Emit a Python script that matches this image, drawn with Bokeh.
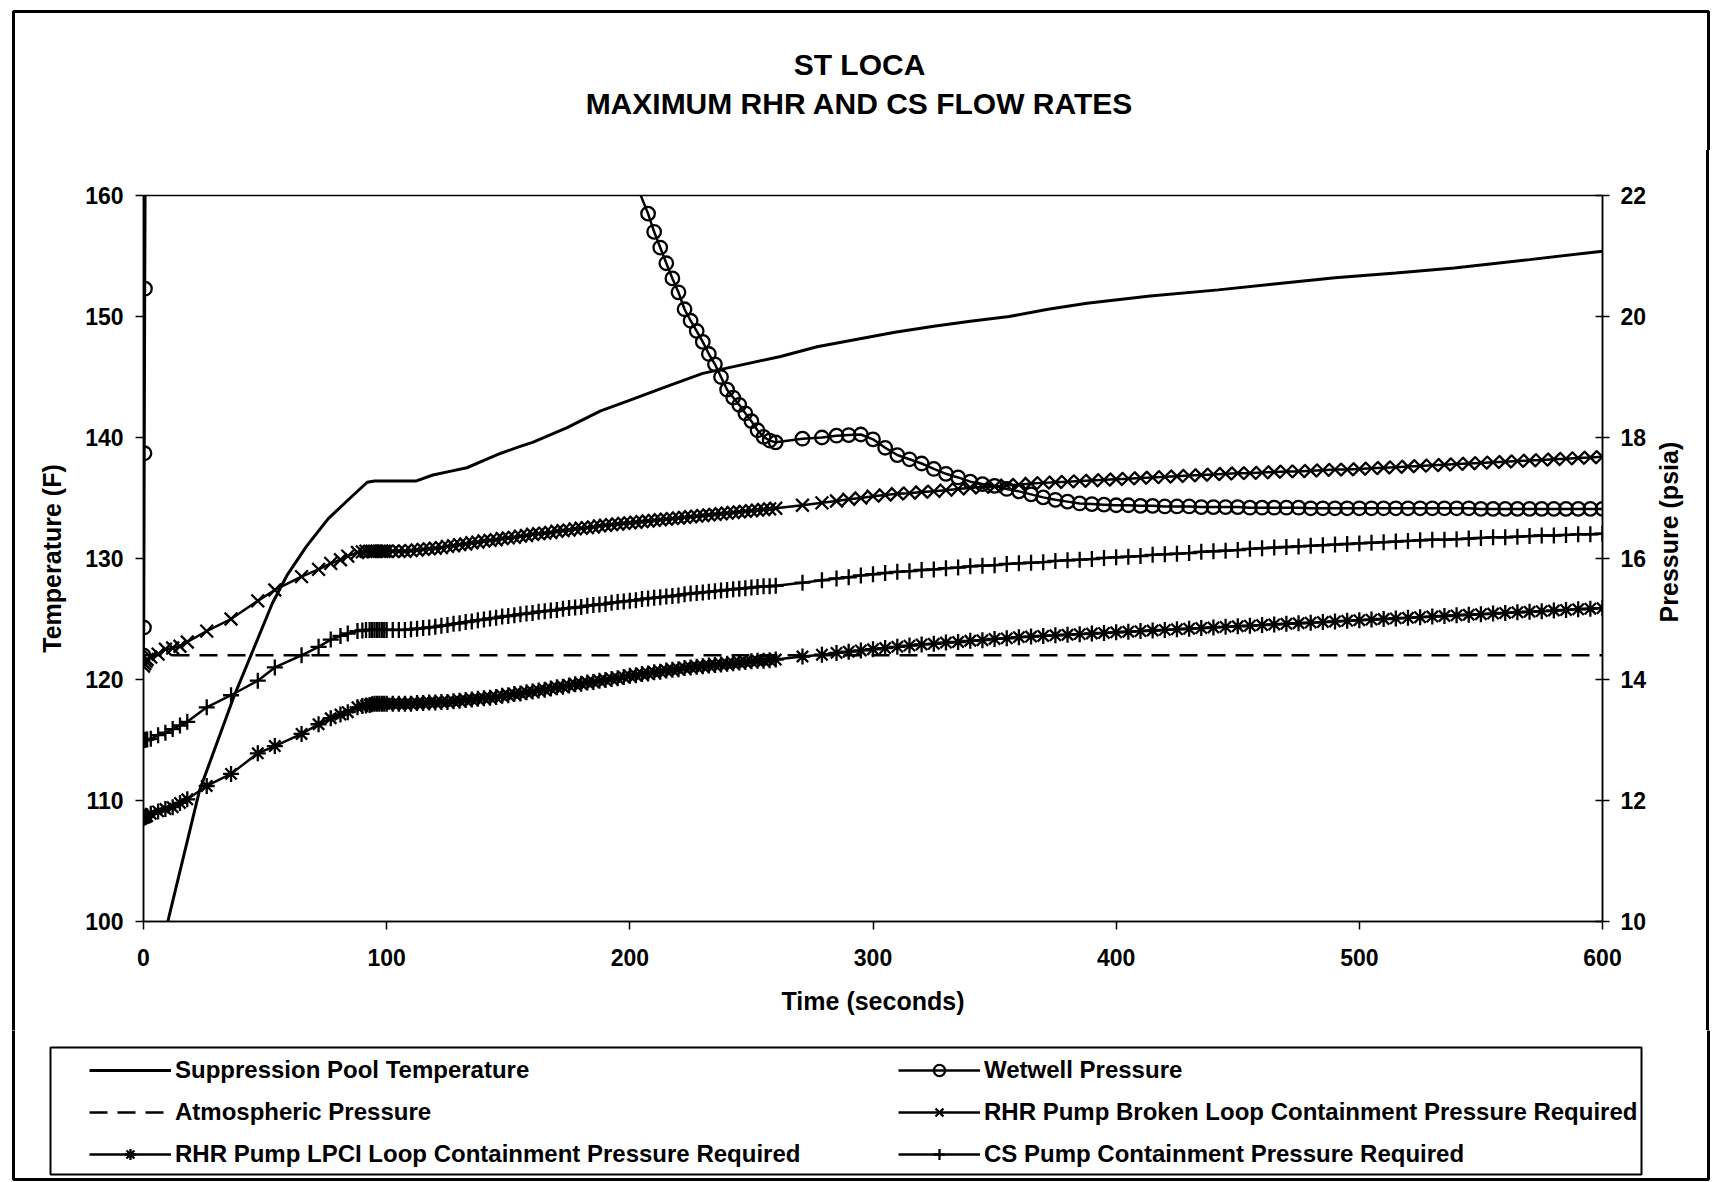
import math
from bokeh.plotting import figure
from bokeh.layouts import column, row
from bokeh.models import (Range1d, LinearAxis, FixedTicker, Legend, LegendItem,
                          Label, BoxAnnotation, Spacer)
from bokeh.embed import file_html
from bokeh.resources import INLINE

# ---------------- text ----------------
TITLE_1 = "ST LOCA"
TITLE_2 = "MAXIMUM RHR AND CS FLOW RATES"
X_LABEL = "Time (seconds)"
Y_LABEL_LEFT = "Temperature (F)"
Y_LABEL_RIGHT = "Pressure (psia)"
X_TICKS = [0, 100, 200, 300, 400, 500, 600]
TEMP_TICKS = [100, 110, 120, 130, 140, 150, 160]
PRES_TICKS = [10, 12, 14, 16, 18, 20, 22]

# ---------------- data ----------------
SPT_TIME = [0, 10, 23, 37, 45, 53, 59, 67, 76, 85,
            92, 95, 105, 112, 119, 126, 133, 140, 147, 154,
            160, 167, 174, 181, 188, 199, 215, 230, 246, 262,
            277, 293, 309, 325, 340, 356, 372, 388, 414, 442,
            466, 490, 515, 539, 570, 600]
SPT_TEMP = [92.3, 100.0, 110.8, 118.5, 122.4, 126.3, 128.6, 131.0, 133.3, 135.0,
            136.3, 136.4, 136.4, 136.4, 136.9, 137.2, 137.5, 138.1, 138.7, 139.2,
            139.6, 140.2, 140.8, 141.5, 142.2, 143.0, 144.2, 145.3, 146.0, 146.7,
            147.5, 148.1, 148.7, 149.2, 149.6, 150.0, 150.6, 151.1, 151.7, 152.2,
            152.7, 153.2, 153.6, 154.0, 154.7, 155.4]

ATM_TIME = [0, 600]
ATM_PRES = [14.4, 14.4]

EARLY_T = [0, 0.5, 1, 1.5, 3, 6, 9, 12, 15, 18,
           26, 36, 47, 54, 65, 72, 77, 81, 84, 88,
           90, 91.5, 93, 94, 95, 96, 97, 98, 99]
MID_T = [100, 102.5, 105, 107.5, 110, 112.5, 115, 117.5, 120, 122.5,
         125, 127.5, 130, 132.5, 135, 137.5, 140, 142.5, 145, 147.5,
         150, 152.5, 155, 157.5, 160, 162.5, 165, 167.5, 170, 172.5,
         175, 177.5, 180, 182.5, 185, 187.5, 190, 192.5, 195, 197.5,
         200, 202.5, 205, 207.5, 210, 212.5, 215, 217.5, 220, 222.5,
         225, 227.5, 230, 232.5, 235, 237.5, 240, 242.5, 245, 247.5,
         250, 252.5, 255, 257.5]
LATE_T = [260, 271, 279, 285,
          290, 295, 300, 305, 310, 315, 320, 325, 330, 335,
          340, 345, 350, 355, 360, 365, 370, 375, 380, 385,
          390, 395, 400, 405, 410, 415, 420, 425, 430, 435,
          440, 445, 450, 455, 460, 465, 470, 475, 480, 485,
          490, 495, 500, 505, 510, 515, 520, 525, 530, 535,
          540, 545, 550, 555, 560, 565, 570, 575, 580, 585,
          590, 595, 600]
PUMP_TIME = EARLY_T + MID_T + LATE_T

LPCI_PRES = [
    11.72, 11.72, 11.73, 11.74, 11.78, 11.82, 11.86, 11.89, 11.96, 12.02,
    12.24, 12.44, 12.78, 12.90, 13.10, 13.26, 13.36, 13.42, 13.46, 13.54,
    13.56, 13.57, 13.58, 13.59, 13.60, 13.60, 13.60, 13.60, 13.60,
    13.60, 13.60, 13.60, 13.60, 13.60, 13.61, 13.61, 13.62, 13.62, 13.63,
    13.63, 13.64, 13.65, 13.66, 13.67, 13.68, 13.69, 13.70, 13.71, 13.73,
    13.74, 13.76, 13.77, 13.79, 13.80, 13.82, 13.83, 13.85, 13.87, 13.88,
    13.90, 13.92, 13.93, 13.95, 13.96, 13.98, 13.99, 14.01, 14.02, 14.04,
    14.06, 14.07, 14.09, 14.10, 14.12, 14.13, 14.15, 14.16, 14.17, 14.19,
    14.20, 14.21, 14.22, 14.23, 14.24, 14.25, 14.26, 14.27, 14.28, 14.29,
    14.30, 14.31, 14.31, 14.32,
    14.33, 14.38, 14.41, 14.44,
    14.46, 14.48, 14.50, 14.52, 14.54, 14.56, 14.58, 14.59, 14.61, 14.62,
    14.64, 14.65, 14.67, 14.68, 14.70, 14.71, 14.72, 14.73, 14.74, 14.75,
    14.76, 14.77, 14.78, 14.79, 14.80, 14.81, 14.82, 14.83, 14.84, 14.85,
    14.86, 14.87, 14.88, 14.89, 14.90, 14.91, 14.92, 14.93, 14.94, 14.95,
    14.96, 14.97, 14.98, 14.99, 15.00, 15.01, 15.02, 15.03, 15.04, 15.05,
    15.06, 15.07, 15.08, 15.09, 15.10, 15.11, 15.12, 15.13, 15.14, 15.15,
    15.16, 15.17, 15.18]

BROKEN_PRES = [
    14.22, 14.26, 14.30, 14.33, 14.37, 14.42, 14.50, 14.52, 14.55, 14.62,
    14.80, 15.00, 15.30, 15.48, 15.70, 15.82, 15.92, 15.98, 16.04, 16.10,
    16.11, 16.12, 16.12, 16.12, 16.12, 16.12, 16.12, 16.12, 16.12,
    16.12, 16.12, 16.12, 16.12, 16.13, 16.14, 16.15, 16.16, 16.17, 16.18,
    16.20, 16.21, 16.23, 16.24, 16.26, 16.27, 16.29, 16.30, 16.31, 16.33,
    16.34, 16.35, 16.37, 16.38, 16.40, 16.41, 16.42, 16.43, 16.45, 16.46,
    16.47, 16.49, 16.50, 16.51, 16.52, 16.54, 16.55, 16.56, 16.57, 16.58,
    16.59, 16.60, 16.61, 16.62, 16.63, 16.64, 16.65, 16.66, 16.67, 16.68,
    16.69, 16.70, 16.71, 16.72, 16.73, 16.74, 16.75, 16.76, 16.77, 16.78,
    16.79, 16.80, 16.81, 16.82,
    16.83, 16.88, 16.92, 16.95,
    16.98, 17.00, 17.03, 17.05, 17.07, 17.08, 17.10, 17.11, 17.13, 17.15,
    17.17, 17.18, 17.19, 17.21, 17.22, 17.24, 17.25, 17.26, 17.27, 17.28,
    17.29, 17.30, 17.31, 17.32, 17.33, 17.34, 17.35, 17.36, 17.37, 17.38,
    17.39, 17.40, 17.41, 17.41, 17.42, 17.43, 17.44, 17.44, 17.45, 17.46,
    17.47, 17.47, 17.48, 17.49, 17.50, 17.51, 17.52, 17.53, 17.54, 17.55,
    17.56, 17.57, 17.58, 17.59, 17.60, 17.61, 17.62, 17.63, 17.64, 17.65,
    17.66, 17.67, 17.68]

CS_PRES = [
    13.00, 13.00, 13.01, 13.01, 13.02, 13.08, 13.12, 13.18, 13.24, 13.30,
    13.54, 13.74, 13.98, 14.20, 14.40, 14.54, 14.66, 14.72, 14.76, 14.80,
    14.81, 14.82, 14.82, 14.82, 14.82, 14.82, 14.82, 14.82, 14.82,
    14.82, 14.82, 14.82, 14.82, 14.83, 14.84, 14.85, 14.86, 14.87, 14.89,
    14.90, 14.92, 14.93, 14.95, 14.96, 14.98, 14.99, 15.01, 15.02, 15.04,
    15.05, 15.06, 15.08, 15.09, 15.10, 15.12, 15.13, 15.14, 15.15, 15.17,
    15.18, 15.19, 15.20, 15.22, 15.23, 15.24, 15.25, 15.27, 15.28, 15.29,
    15.30, 15.31, 15.33, 15.34, 15.35, 15.36, 15.37, 15.38, 15.39, 15.41,
    15.42, 15.43, 15.44, 15.45, 15.46, 15.47, 15.48, 15.49, 15.50, 15.51,
    15.52, 15.53, 15.54, 15.54,
    15.55, 15.60, 15.64, 15.67,
    15.69, 15.72, 15.74, 15.76, 15.78, 15.79, 15.81, 15.82, 15.84, 15.85,
    15.87, 15.88, 15.89, 15.91, 15.92, 15.93, 15.94, 15.96, 15.97, 15.98,
    15.99, 16.01, 16.02, 16.03, 16.04, 16.06, 16.07, 16.08, 16.09, 16.11,
    16.12, 16.13, 16.14, 16.16, 16.17, 16.18, 16.19, 16.20, 16.21, 16.22,
    16.23, 16.24, 16.25, 16.26, 16.27, 16.28, 16.29, 16.30, 16.31, 16.31,
    16.32, 16.33, 16.34, 16.35, 16.35, 16.36, 16.37, 16.38, 16.38, 16.39,
    16.40, 16.40, 16.41]

WW_EARLY_T = [0, 0.2, 0.4, 0.6, 1, 50, 100, 150, 200]
WW_TIME = WW_EARLY_T + MID_T[43:] + LATE_T
WW_PRES = [
    14.40, 14.86, 17.74, 20.46, 24.5, 31.0, 29.0, 26.0, 22.45,
    21.70, 21.40, 21.14, 20.88, 20.63, 20.40, 20.12, 19.93, 19.76, 19.58,
    19.38, 19.21, 19.00, 18.79, 18.66, 18.54, 18.40, 18.27, 18.12, 18.01, 17.95,
    17.92, 17.98, 18.00, 18.03,
    18.04, 18.05, 17.97, 17.83, 17.71, 17.64, 17.57, 17.48, 17.40, 17.34,
    17.27, 17.23, 17.20, 17.15, 17.11, 17.06, 17.01, 16.97, 16.94, 16.91,
    16.90, 16.89, 16.88, 16.88, 16.87, 16.87, 16.86, 16.86, 16.86, 16.85,
    16.85, 16.85, 16.85, 16.84, 16.84, 16.84, 16.84, 16.84, 16.83, 16.83,
    16.83, 16.83, 16.83, 16.83, 16.83, 16.83, 16.83, 16.83, 16.83, 16.83,
    16.83, 16.83, 16.82, 16.82, 16.82, 16.82, 16.82, 16.82, 16.82, 16.82,
    16.82, 16.82, 16.82]

LEG_LEFT = ["Suppression Pool Temperature", "Atmospheric Pressure",
            "RHR Pump LPCI Loop Containment Pressure Required"]
LEG_RIGHT = ["Wetwell Pressure", "RHR Pump Broken Loop Containment Pressure Required",
             "CS Pump Containment Pressure Required"]

# ---------------- styles / layout constants ----------------
FONT = "Liberation Sans"
LW = 2.5
MLW = 2.3
TOTAL_W = 1712
TITLE_H = 150
MID_H = 880
LEG_H = 151
MAIN_X0 = 18             # page x where the main figure starts
MAIN_W = 1650 - MAIN_X0  # main figure: page x 18..1650
RLAB_W = 1706 - 1650     # right label strip: page x 1650..1706

MARKERS = dict(
    lpci=dict(marker="asterisk", size=16, line_color="black", line_width=MLW),
    cs=dict(marker="cross", size=16, line_color="black", line_width=MLW),
    brk=dict(marker="x", size=18, line_color="black", line_width=MLW),
    ww=dict(marker="circle", size=13.5, line_color="black", line_width=MLW, fill_color=None),
)


def blank(w, h):
    f = figure(width=w, height=h, output_backend="svg", toolbar_location=None,
               x_range=Range1d(0, w), y_range=Range1d(0, h),
               x_axis_location=None, y_axis_location=None, min_border=0)
    f.xgrid.visible = False
    f.ygrid.visible = False
    f.outline_line_color = None
    f.background_fill_color = "white"
    f.border_fill_color = "white"
    return f


def box(f, left, right, bottom, top, lw):
    f.add_layout(BoxAnnotation(left=left, right=right, bottom=bottom, top=top,
                               fill_color=None, fill_alpha=0, line_color="black",
                               line_alpha=1.0, line_width=lw))


# ---------------- main plot ----------------
p = figure(width=MAIN_W, height=MID_H, output_backend="svg", toolbar_location=None,
           x_range=Range1d(0, 600), y_range=Range1d(100, 160),
           min_border_left=143 - MAIN_X0, min_border_right=MAIN_W - (1602 - MAIN_X0),
           min_border_top=195 - TITLE_H, min_border_bottom=MID_H - (921 - TITLE_H))
p.extra_y_ranges = {"pres": Range1d(10, 22)}
p.xgrid.visible = False
p.ygrid.visible = False
p.outline_line_color = "black"
p.outline_line_width = 1.5
p.background_fill_color = "white"
p.border_fill_color = "white"


def style_axis(ax, tin, tout, standoff):
    ax.axis_line_color = "black"
    ax.axis_line_width = 1.5
    ax.major_tick_line_color = "black"
    ax.major_tick_line_width = 1.5
    ax.major_tick_in = tin
    ax.major_tick_out = tout
    ax.minor_tick_line_color = None
    ax.major_label_text_font = FONT
    ax.major_label_text_font_style = "bold"
    ax.major_label_text_font_size = "23px"
    ax.major_label_text_color = "black"
    ax.major_label_standoff = standoff
    ax.axis_label_text_font = FONT
    ax.axis_label_text_font_style = "bold"
    ax.axis_label_text_font_size = "25px"
    ax.axis_label_text_color = "black"


xa = p.xaxis[0]
xa.ticker = FixedTicker(ticks=X_TICKS)
style_axis(xa, 0, 8, 19)
xa.axis_label = X_LABEL
xa.axis_label_standoff = 18

ya = p.yaxis[0]
ya.ticker = FixedTicker(ticks=TEMP_TICKS)
style_axis(ya, 0, 8, 12)
ya.axis_label = Y_LABEL_LEFT
ya.axis_label_standoff = 16

yr = LinearAxis(y_range_name="pres", ticker=FixedTicker(ticks=PRES_TICKS))
style_axis(yr, 7, 7, 11)
p.add_layout(yr, "right")

p.line(SPT_TIME, SPT_TEMP, line_color="black", line_width=3)
p.line(ATM_TIME, ATM_PRES, y_range_name="pres", line_color="black",
       line_width=2.4, line_dash="18 10")
p.line(PUMP_TIME, LPCI_PRES, y_range_name="pres", line_color="black", line_width=LW)
p.scatter(PUMP_TIME, LPCI_PRES, y_range_name="pres", **MARKERS["lpci"])
p.line(PUMP_TIME, CS_PRES, y_range_name="pres", line_color="black", line_width=LW)
p.scatter(PUMP_TIME, CS_PRES, y_range_name="pres", **MARKERS["cs"])
p.line(PUMP_TIME, BROKEN_PRES, y_range_name="pres", line_color="black", line_width=LW)
p.scatter(PUMP_TIME, BROKEN_PRES, y_range_name="pres", **MARKERS["brk"])
p.line(WW_TIME, WW_PRES, y_range_name="pres", line_color="black", line_width=LW)
p.scatter(WW_TIME, WW_PRES, y_range_name="pres", **MARKERS["ww"])

# ---------------- title strip ----------------
ft = blank(TOTAL_W, TITLE_H)
for txt, py in [(TITLE_1, 64), (TITLE_2, 102.5)]:
    ft.add_layout(Label(x=859, y=TITLE_H - py, text=txt, text_align="center",
                        text_baseline="middle", text_font=FONT, text_font_style="bold",
                        text_font_size="30px", text_color="black"))
box(ft, 13, 1708, -100, TITLE_H - 11, 3)

# ---------------- right label strip ----------------
fr = blank(RLAB_W, MID_H)
fr.add_layout(Label(x=1668 - 1650, y=MID_H - (558 - TITLE_H), text=Y_LABEL_RIGHT,
                    angle=math.pi / 2, text_align="center", text_baseline="middle",
                    text_font=FONT, text_font_style="bold", text_font_size="25px",
                    text_color="black"))


# outer border pieces for the middle band (plain black bars)
def bar(w, black):
    s = Spacer(width=w, height=MID_H)
    if black:
        s.styles = {"background-color": "black"}
    return s


middle = row(bar(12, False), bar(3, True), bar(MAIN_X0 - 15, False), p, fr,
             bar(3, True), bar(TOTAL_W - 1709, False))

# ---------------- legend strip ----------------
fg = blank(TOTAL_W, LEG_H)
OFF = [-1000]
g_spt = fg.line(OFF, OFF, line_color="black", line_width=3)
g_atm = fg.line(OFF, OFF, line_color="black", line_width=2.4, line_dash="18 10")
g_lp_l = fg.line(OFF, OFF, line_color="black", line_width=LW)
g_lp_s = fg.scatter(OFF, OFF, **MARKERS["lpci"])
g_ww_l = fg.line(OFF, OFF, line_color="black", line_width=LW)
g_ww_s = fg.scatter(OFF, OFF, **MARKERS["ww"])
g_bk_l = fg.line(OFF, OFF, line_color="black", line_width=LW)
g_bk_s = fg.scatter(OFF, OFF, **MARKERS["brk"])
g_cs_l = fg.line(OFF, OFF, line_color="black", line_width=LW)
g_cs_s = fg.scatter(OFF, OFF, **MARKERS["cs"])

Y0 = TITLE_H + MID_H  # page y where the legend strip starts
box(fg, 50, 1641, LEG_H - (1174 - Y0), LEG_H - (1047 - Y0), 2)
box(fg, 13, 1708, LEG_H - (1179 - Y0), LEG_H + 100, 3)


def make_legend(labels, renderers, loc):
    items = [LegendItem(label=l, renderers=r) for l, r in zip(labels, renderers)]
    return Legend(items=items, location=loc, orientation="vertical",
                  padding=0, margin=0, spacing=14, glyph_width=82, glyph_height=28,
                  label_standoff=4, label_text_font=FONT, label_text_font_style="bold",
                  label_text_font_size="24px", label_text_color="black",
                  border_line_color=None, background_fill_alpha=0)


leg_bottom = LEG_H - (1168 - Y0)
fg.add_layout(make_legend(LEG_LEFT, [[g_spt], [g_atm], [g_lp_l, g_lp_s]], (89, leg_bottom)))
fg.add_layout(make_legend(LEG_RIGHT, [[g_ww_l, g_ww_s], [g_bk_l, g_bk_s], [g_cs_l, g_cs_s]],
                          (898, leg_bottom)))

layout = column(ft, middle, fg)
open("out.html", "w").write(file_html(layout, INLINE))
